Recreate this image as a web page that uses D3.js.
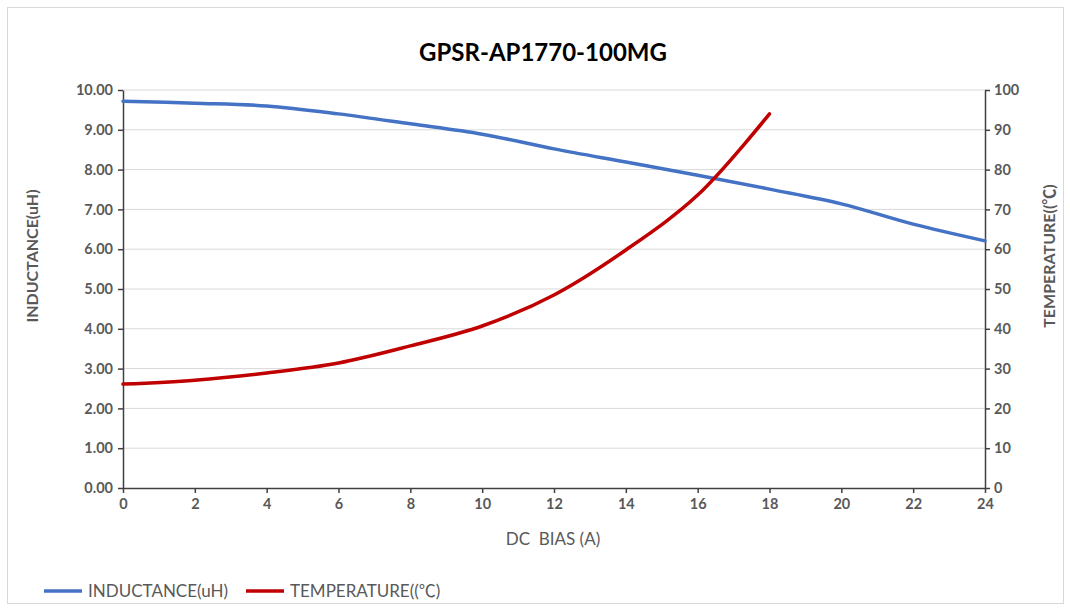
<!DOCTYPE html>
<html>
<head>
<meta charset="utf-8">
<script src="https://cdn.jsdelivr.net/npm/d3@7"></script>
<style>
  body { margin: 0; background: #fff; }
  text { font-family: Lato, "Open Sans", sans-serif; }
  .cjk { font-family: "Noto Sans CJK SC", sans-serif; }
</style>
</head>
<body>
<svg id="chart" width="1070" height="609"></svg>
<script>
const title = "GPSR-AP1770-100MG";
const bias = [0, 2, 4, 6, 8, 10, 12, 14, 16, 18, 20, 22, 24];
const inductance = [9.72, 9.67, 9.60, 9.40, 9.15, 8.89, 8.52, 8.19, 7.86, 7.51, 7.14, 6.63, 6.21];
const tempBias = [0, 2, 4, 6, 8, 10, 12, 14, 16, 18];
const temperature = [26.1, 27.1, 28.9, 31.4, 35.7, 40.7, 48.5, 59.8, 73.6, 94.0];
const xTicks = [0, 2, 4, 6, 8, 10, 12, 14, 16, 18, 20, 22, 24];
const leftTicks = [0, 1, 2, 3, 4, 5, 6, 7, 8, 9, 10];
const rightTicks = [0, 10, 20, 30, 40, 50, 60, 70, 80, 90, 100];

const svg = d3.select("#chart");
const margin = {top: 90, right: 85, bottom: 121, left: 123};
const width = +svg.attr("width") - margin.left - margin.right;
const height = +svg.attr("height") - margin.top - margin.bottom;

// outer frame
svg.append("rect")
    .attr("x", 7.5).attr("y", 7.5)
    .attr("width", 1056).attr("height", 596)
    .attr("fill", "#fff")
    .attr("stroke", "#d9d9d9");

const x = d3.scaleLinear().domain([0, 24]).range([0, width]);
const yL = d3.scaleLinear().domain([0, 10]).range([height, 0]);
const yR = d3.scaleLinear().domain([0, 100]).range([height, 0]);

const g = svg.append("g")
    .attr("transform", "translate(" + margin.left + "," + margin.top + ")");

// gridlines
g.selectAll(".grid")
    .data(leftTicks.slice(1))
    .enter().append("line")
    .attr("x1", 0).attr("x2", width)
    .attr("y1", d => yL(d)).attr("y2", d => yL(d))
    .attr("stroke", "#d9d9d9");

const styleAxis = sel => {
    sel.selectAll("path, line").attr("stroke", "#404040").attr("stroke-width", 1.5);
    sel.selectAll("text")
        .attr("fill", "#595959")
        .style("font-size", "14.5px")
        .style("font-weight", "700");
};

g.append("g")
    .attr("transform", "translate(0," + height + ")")
    .call(d3.axisBottom(x).tickValues(xTicks).tickSize(5).tickSizeOuter(0).tickPadding(6))
    .call(styleAxis);

g.append("g")
    .call(d3.axisLeft(yL).tickValues(leftTicks).tickFormat(d3.format(".2f")).tickSize(5).tickSizeOuter(0).tickPadding(5))
    .call(styleAxis);

g.append("g")
    .attr("transform", "translate(" + width + ",0)")
    .call(d3.axisRight(yR).tickValues(rightTicks).tickSize(5).tickSizeOuter(0).tickPadding(4))
    .call(styleAxis);

// lines
const indLine = d3.line()
    .x((d, i) => x(bias[i]))
    .y(d => yL(d))
    .curve(d3.curveCatmullRom);

const tempLine = d3.line()
    .x((d, i) => x(tempBias[i]))
    .y(d => yR(d))
    .curve(d3.curveCatmullRom);

g.append("path")
    .datum(inductance)
    .attr("d", indLine)
    .attr("fill", "none")
    .attr("stroke", "#4472c4")
    .attr("stroke-width", 3.5)
    .attr("stroke-linecap", "round");

g.append("path")
    .datum(temperature)
    .attr("d", tempLine)
    .attr("fill", "none")
    .attr("stroke", "#c00000")
    .attr("stroke-width", 3.5)
    .attr("stroke-linecap", "round");

// temperature label with the wide degree sign
const tempLabel = sel => {
    sel.append("tspan").text("TEMPERATURE((");
    sel.append("tspan").attr("class", "cjk").text("\u2103");
    sel.append("tspan").text(")");
};

// titles
svg.append("text")
    .attr("x", 543).attr("y", 61)
    .attr("text-anchor", "middle")
    .style("font-size", "24px")
    .style("font-weight", "700")
    .attr("fill", "#000")
    .text(title);

svg.append("text")
    .attr("x", 553).attr("y", 545)
    .attr("text-anchor", "middle")
    .style("font-size", "17px")
    .attr("fill", "#595959")
    .text("DC\u00a0\u00a0BIAS (A)");

svg.append("text")
    .attr("transform", "translate(38,256) rotate(-90)")
    .attr("text-anchor", "middle")
    .style("font-size", "16px")
    .style("font-weight", "700")
    .attr("fill", "#595959")
    .text("INDUCTANCE(uH)");

svg.append("text")
    .attr("transform", "translate(1055,256) rotate(-90)")
    .attr("text-anchor", "middle")
    .style("font-size", "16px")
    .style("font-weight", "700")
    .attr("fill", "#595959")
    .call(tempLabel);

// legend
const legend = [
    {name: "INDUCTANCE(uH)", color: "#4472c4", x: 44},
    {name: "TEMPERATURE", color: "#c00000", x: 246}
];
const lg = svg.selectAll(".legend")
    .data(legend)
    .enter().append("g")
    .attr("transform", d => "translate(" + d.x + ",591)");
lg.append("line")
    .attr("x1", 0).attr("x2", 38)
    .attr("stroke", d => d.color)
    .attr("stroke-width", 3.5);
lg.append("text")
    .attr("x", 44).attr("y", 6)
    .style("font-size", "17px")
    .attr("fill", "#595959")
    .each(function(d, i) {
        if (i === 1) d3.select(this).call(tempLabel);
        else d3.select(this).text(d.name);
    });
</script>
</body>
</html>
